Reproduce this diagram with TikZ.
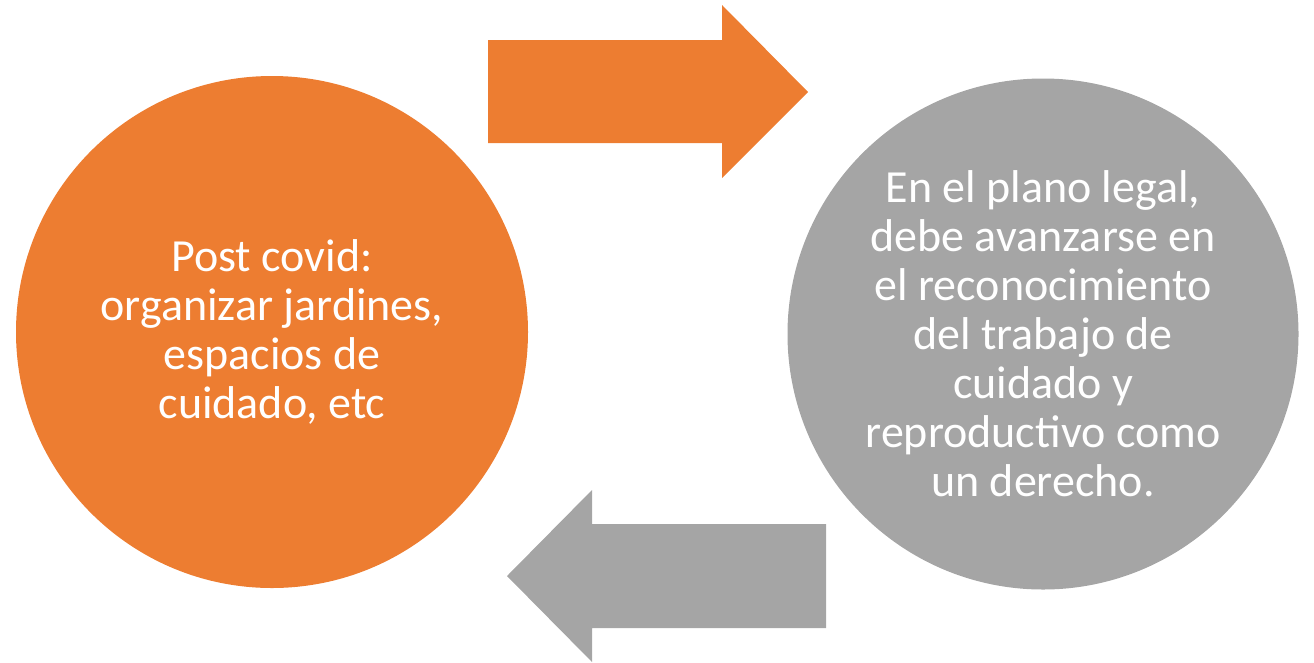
\documentclass[tikz,border=0pt]{standalone}
\usepackage{fontspec}
\setmainfont{Carlito}
\definecolor{orangeC}{HTML}{ED7D31}
\definecolor{greyC}{HTML}{A5A5A5}
\tikzset{
  bubble/.style={circle, inner sep=0pt, minimum size=#1, text=white, align=center,
    font=\fontsize{46}{49}\selectfont},
}
\begin{document}
\begin{tikzpicture}[x=1pt,y=-1pt]
\useasboundingbox (0,0) rectangle (1314,662);
% circles
\node[bubble=512pt, fill=orangeC] (covid) at (272,332)
  {Post covid:\\organizar jardines,\\espacios de\\cuidado, etc};
\node[bubble=511pt, fill=greyC] (legal) at (1043,334)
  {En el plano legal,\\debe avanzarse en\\el reconocimiento\\del trabajo de\\cuidado y\\reproductivo como\\un derecho.};
% arrows
\fill[orangeC] (488,40) -- (722,40) -- (722,5) -- (808,92) -- (722,178) -- (722,143) -- (488,143) -- cycle;
\fill[greyC] (826,524) -- (592,524) -- (592,490) -- (507,576) -- (592,662) -- (592,628) -- (826,628) -- cycle;
\end{tikzpicture}
\end{document}
